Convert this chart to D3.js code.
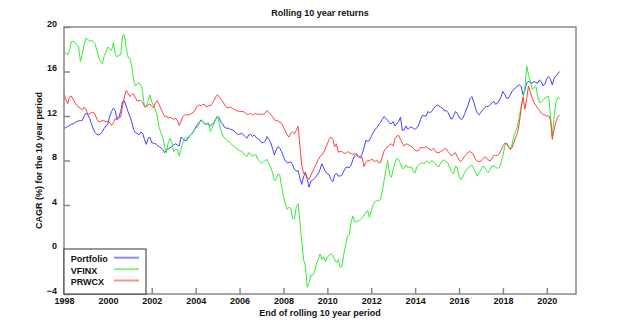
<!DOCTYPE html>
<html>
<head>
<meta charset="utf-8">
<script src="https://cdn.jsdelivr.net/npm/d3@7"></script>
<style>
  body { margin: 0; background: #fff; }
  svg { display: block; font-family: "Liberation Sans", Arial, sans-serif; font-weight: bold; }
</style>
</head>
<body>
<svg id="chart" width="640" height="322"></svg>
<script>
// monthly values, first point is Jan 1998
const startYear = 1998;
const seriesNames = ["Portfolio", "VFINX", "PRWCX"];
const seriesColors = ["#4040ff", "#33ee33", "#ff4040"];
const xTicks = [1998, 2000, 2002, 2004, 2006, 2008, 2010, 2012, 2014, 2016, 2018, 2020];
const yTicks = [-4, 0, 4, 8, 12, 16, 20];

const portfolio = [
  10.9, 10.95, 11.05, 11.15, 11.25, 11.3, 11.4, 11.5, 11.55, 11.6, 11.6, 12.0,
  12.25, 12.1, 11.8, 11.3, 10.85, 10.5, 10.35, 10.3, 10.4, 10.6, 10.9, 11.1,
  11.3, 12.0, 12.4, 12.7, 12.5, 11.65, 11.9, 12.4, 13.3, 13.35, 12.9, 12.4,
  12.0, 11.5, 10.8, 10.5, 10.45, 10.3, 10.55, 10.45, 9.9, 9.45, 10.0, 10.1,
  9.6, 9.55, 9.5, 9.35, 9.25, 9.15, 9.0, 8.7, 8.95, 9.05, 9.15, 9.25,
  9.4, 9.5, 9.4, 9.3, 10.1, 9.95, 9.8, 9.8, 10.1, 10.25, 10.4, 10.65,
  11.0, 11.25, 11.45, 11.65, 11.5, 11.25, 11.3, 11.3, 11.1, 11.25, 11.4, 11.7,
  12.0, 11.8, 11.4, 11.2, 10.95, 10.9, 10.9, 10.8, 10.75, 10.65, 10.5, 10.35,
  10.35, 10.45, 10.35, 10.15, 10.0, 10.3, 10.35, 10.15, 10.3, 10.1, 9.95, 9.85,
  9.6, 9.6, 9.75, 10.15, 9.9, 9.6, 9.1, 8.5, 8.95, 9.25, 9.1, 8.8,
  8.35, 7.95, 7.8, 7.8, 7.9, 7.65, 7.2, 7.05, 7.1, 6.4, 5.85, 6.55,
  6.9, 6.3, 5.6, 6.15, 6.25, 6.4, 6.6, 6.8, 7.2, 7.7, 7.35, 7.0,
  6.8, 6.7, 6.3, 6.1, 6.7, 6.85, 6.6, 6.6, 6.7, 7.05, 7.35, 7.4,
  7.35, 7.6, 8.1, 8.45, 8.6, 8.4, 8.25, 8.6, 9.1, 9.8, 9.75, 9.8,
  10.15, 10.5, 10.75, 10.95, 11.2, 11.4, 11.7, 11.95, 11.8, 11.6, 11.35, 11.3,
  11.5, 11.1, 11.3, 11.5, 11.9, 10.7, 10.75, 11.1, 10.8, 10.95, 11.0, 10.9,
  10.8, 10.95, 11.2, 11.7, 12.05, 12.0, 12.0, 12.4, 12.3, 12.4, 12.65, 12.85,
  13.0, 12.9, 12.8, 12.7, 12.45, 12.5, 12.3, 11.95, 11.7, 12.0, 12.4, 12.25,
  11.9, 11.7, 11.8, 12.15, 12.6, 13.0, 13.55, 13.75, 13.3, 12.7, 12.25, 12.1,
  12.35, 12.55, 12.75, 12.85, 12.85, 13.0, 13.2, 13.3, 13.05, 13.15, 13.4, 13.75,
  14.2, 13.95, 13.6, 13.6, 13.9, 14.2, 14.4, 14.55, 14.7, 14.8, 14.65, 13.9,
  14.3, 15.0, 15.1, 15.0, 14.95, 15.1, 15.0, 14.95, 15.25, 15.05, 14.7, 14.9,
  15.35, 15.55, 15.3, 14.8, 15.4, 15.6, 15.8, 16.0
];

const vfinx = [
  17.8, 17.6, 17.5, 17.9, 18.7, 18.7, 18.6, 18.4, 18.2, 16.9, 17.6, 18.4,
  19.0, 18.9, 18.7, 18.8, 18.7, 18.5, 17.9, 17.2, 16.9, 16.7, 17.4, 17.8,
  18.2, 18.0, 17.9, 18.6, 17.6, 17.3, 17.5, 17.5, 19.2, 19.3, 18.2, 17.3,
  17.2, 16.5, 15.3, 14.7, 14.8, 15.0, 14.8, 14.2, 12.8, 12.9, 13.4, 13.9,
  13.3, 12.9, 12.6, 12.0, 11.0, 10.5, 10.1, 9.25, 8.7, 9.6, 10.0, 9.6,
  8.8, 9.0, 9.0, 8.4, 9.0, 9.6, 10.0, 10.1, 10.0, 10.2, 10.4, 10.7,
  10.9, 11.0, 11.3, 11.6, 11.5, 11.3, 11.3, 11.4, 10.6, 10.9, 11.3, 11.8,
  12.0, 11.2, 10.6, 10.2, 10.0, 9.8, 9.7, 9.55, 9.4, 9.3, 9.1, 9.0,
  8.9, 8.85, 8.7, 8.5, 8.35, 8.7, 8.6, 8.35, 8.5, 8.5, 8.1, 7.9,
  7.75, 7.9, 8.0, 8.1, 7.7, 7.4, 6.9, 6.2, 6.3, 6.8, 6.7, 5.6,
  4.8, 4.1, 3.6, 3.8, 3.7, 2.8, 2.8, 3.8, 4.1, 2.5, 0.7, -0.9,
  -1.5, -3.4, -3.0, -2.3, -2.3, -2.0, -1.3, -0.9, -0.4, -0.9, -0.65, -1.1,
  -0.7, -0.5, -0.4, -0.5, -0.9, -1.2, -0.9, -1.6, -1.5, -0.4, 0.4, 1.2,
  1.3, 2.5, 3.0, 2.5, 2.5, 2.6, 2.65, 2.8, 3.1, 3.3, 3.5, 2.9,
  3.5, 4.0, 4.3, 4.4, 4.35, 4.5, 5.2, 6.2, 7.1, 8.0, 6.7, 6.5,
  7.2, 7.8, 8.2, 8.1, 7.7, 7.3, 7.3, 7.6, 7.35, 7.4, 7.45, 7.0,
  6.9, 7.45, 7.6, 7.75, 7.8, 7.7, 7.95, 7.9, 7.75, 8.0, 7.9, 7.7,
  7.5, 7.45, 7.8, 8.0, 8.05, 7.9, 7.75, 7.3, 7.0, 6.8, 7.5, 7.4,
  6.6, 6.3, 6.5, 6.9, 7.2, 7.3, 7.5, 7.6, 7.3, 6.9, 6.6, 6.9,
  7.2, 7.5, 7.4, 7.1, 6.9, 7.2, 7.5, 7.5, 7.4, 7.3, 7.35, 7.8,
  8.4, 9.3, 9.6, 9.3, 9.0, 9.45, 10.2, 10.65, 11.1, 12.0, 12.9, 13.65,
  14.5, 16.5, 15.7, 15.15, 14.4, 14.55, 14.7, 13.8, 13.2, 13.25, 13.4, 13.65,
  13.7, 13.8, 12.0, 10.2, 12.0, 13.2, 13.7, 13.5
];

const prwcx = [
  14.0, 13.5, 13.1, 13.7, 13.8, 13.5, 13.2, 12.95, 12.8, 12.7, 12.55, 12.8,
  12.6, 12.15, 12.2, 12.3, 12.35, 12.15, 11.7, 11.5, 11.5, 11.6, 11.55, 11.5,
  11.5, 11.4, 11.15, 11.4, 11.75, 11.9, 11.85, 11.9, 12.9, 13.7, 14.3, 14.05,
  13.75, 13.9, 14.0, 13.65, 13.35, 13.4, 13.4, 13.2, 12.9, 12.8, 13.0, 13.1,
  12.85, 12.75, 13.2, 13.4, 13.05, 12.65, 12.3, 11.95, 12.0, 11.8, 11.9, 11.8,
  11.7, 11.8, 11.6, 11.15, 11.55, 11.95, 12.1, 12.1, 12.1, 12.15, 12.25, 12.35,
  12.65, 12.9, 13.0, 12.9, 13.05, 13.0, 12.8, 12.95, 12.9, 13.1, 13.4, 13.75,
  13.9, 13.7, 13.45, 13.25, 12.95, 12.75, 12.75, 12.8, 12.7, 12.6, 12.5, 12.45,
  12.4, 12.4, 12.4, 12.3, 12.15, 12.15, 12.25, 12.1, 12.2, 12.2, 12.15, 12.15,
  12.15, 12.15, 12.25, 12.5, 12.3, 12.15, 11.95, 11.65, 11.6, 11.55, 11.45, 11.35,
  11.0, 10.65, 10.3, 10.1, 10.45, 10.55, 10.4, 10.7, 11.1, 9.3, 7.6, 6.85,
  6.95, 6.45, 6.3, 6.7, 7.0, 7.4, 7.7, 8.05, 8.35, 8.5, 8.75, 9.1,
  9.5, 9.9, 10.1, 9.9, 9.25, 9.5, 8.75, 8.8, 8.8, 8.65, 8.65, 8.8,
  8.7, 8.6, 8.55, 8.65, 8.45, 8.3, 8.25, 8.3, 7.45, 7.8, 8.0, 7.95,
  8.1, 8.05, 7.9, 8.05, 7.8, 7.8, 8.3, 8.85, 9.1, 9.2, 9.4, 9.5,
  9.3, 9.95, 10.2, 10.25, 9.9, 9.55, 9.3, 9.5, 9.45, 9.35, 9.25, 9.1,
  8.9, 8.85, 8.95, 9.2, 9.15, 9.15, 9.25, 9.1, 9.0, 8.95, 9.1, 8.85,
  8.7, 8.7, 8.8, 8.9, 9.05, 9.05, 8.8, 8.6, 8.4, 8.6, 8.7, 8.35,
  8.05, 7.9, 8.1, 8.35, 8.55, 8.75, 8.8, 8.7, 8.5, 8.1, 7.95, 7.9,
  7.95, 8.15, 8.3, 8.25, 8.05, 7.95, 8.2, 8.45, 8.45, 8.45, 8.6, 8.95,
  9.3, 9.55, 9.5, 9.25, 9.0, 9.15, 9.6, 10.1, 10.5, 11.4, 12.7, 13.7,
  12.6, 13.6, 14.7, 14.1, 13.6, 13.2, 12.95, 12.7, 12.5, 12.25, 12.1, 12.1,
  11.95, 12.05, 11.6, 9.9, 10.8, 11.5, 11.9, 12.1
];

const allSeries = [portfolio, vfinx, prwcx];

const width = 640, height = 322;
const margin = { top: 27, right: 64, bottom: 28, left: 64 };
const fontSize = 9;

const svg = d3.select("#chart");

const x = d3.scaleLinear()
  .domain([1998, 2021.33])
  .range([margin.left, width - margin.right]);

const y = d3.scaleLinear()
  .domain([-4, 20])
  .range([height - margin.bottom, margin.top]);

// title
svg.append("text")
  .attr("x", (margin.left + width - margin.right) / 2)
  .attr("y", 15.5)
  .attr("text-anchor", "middle")
  .attr("font-size", fontSize)
  .attr("fill", "#111")
  .text("Rolling 10 year returns");

// axes, ticks point inward
const xAxis = svg.append("g")
  .attr("transform", "translate(0," + (height - margin.bottom) + ")")
  .call(d3.axisBottom(x).tickValues(xTicks).tickFormat(d3.format("d"))
    .tickSizeInner(-6).tickSizeOuter(0).tickPadding(4));

const yAxis = svg.append("g")
  .attr("transform", "translate(" + margin.left + ",0)")
  .call(d3.axisLeft(y).tickValues(yTicks)
    .tickSizeInner(-6).tickSizeOuter(0).tickPadding(7));

[xAxis, yAxis].forEach(function (g) {
  g.attr("font-family", null).attr("font-size", fontSize);
  g.select(".domain").remove();
  g.selectAll(".tick line").attr("stroke", "#888").attr("stroke-width", 1.5);
  g.selectAll(".tick text").attr("fill", "#111");
});
yAxis.selectAll(".tick text").attr("dy", "-0.1em");

// lines
const line = d3.line()
  .x((d, i) => x(startYear + i / 12))
  .y((d) => y(d));

allSeries.forEach(function (values, k) {
  svg.append("path")
    .datum(values)
    .attr("fill", "none")
    .attr("stroke", seriesColors[k])
    .attr("stroke-width", 1)
    .attr("stroke-linejoin", "round")
    .attr("d", line);
});

// frame
svg.append("rect")
  .attr("x", margin.left)
  .attr("y", margin.top)
  .attr("width", width - margin.left - margin.right)
  .attr("height", height - margin.top - margin.bottom)
  .attr("fill", "none")
  .attr("stroke", "#888")
  .attr("stroke-width", 1.5);

// axis titles
svg.append("text")
  .attr("x", (margin.left + width - margin.right) / 2)
  .attr("y", 315.5)
  .attr("text-anchor", "middle")
  .attr("font-size", fontSize)
  .attr("fill", "#111")
  .text("End of rolling 10 year period");

svg.append("text")
  .attr("transform", "translate(42," + (margin.top + height - margin.bottom) / 2 + ") rotate(-90)")
  .attr("text-anchor", "middle")
  .attr("font-size", fontSize)
  .attr("fill", "#111")
  .text("CAGR (%) for the 10 year period");

// legend
const legend = svg.append("g").attr("transform", "translate(" + margin.left + ",249)");
legend.append("rect")
  .attr("width", 82)
  .attr("height", height - margin.bottom - 249)
  .attr("fill", "#fff")
  .attr("stroke", "#333")
  .attr("stroke-width", 1);

seriesNames.forEach(function (name, k) {
  const ly = 8.7 + k * 11.4;
  legend.append("text")
    .attr("x", 6.7)
    .attr("y", ly + 4.5)
    .attr("font-size", fontSize)
    .attr("fill", "#111")
    .text(name);
  legend.append("line")
    .attr("x1", 50).attr("x2", 75)
    .attr("y1", ly).attr("y2", ly)
    .attr("stroke", seriesColors[k])
    .attr("stroke-opacity", 0.6)
    .attr("stroke-width", 2);
});
</script>
</body>
</html>
